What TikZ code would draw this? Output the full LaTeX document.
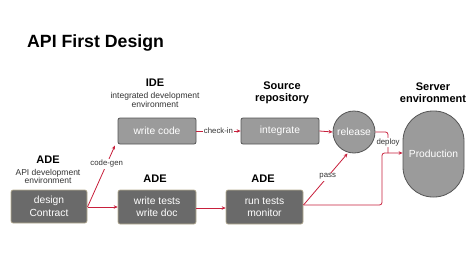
\documentclass[tikz,border=0pt]{standalone}
\usepackage{fontspec}
\setmainfont{Liberation Sans}
\usetikzlibrary{arrows.meta}
\definecolor{arrowred}{HTML}{C8203C}
\definecolor{lightbox}{HTML}{9B9B9B}
\definecolor{darkbox}{HTML}{6A6A6A}
\definecolor{boxline}{HTML}{555555}
\definecolor{darkline}{HTML}{B8AE92}
\definecolor{labelgray}{HTML}{333333}
\tikzset{
  lightstep/.style={draw=boxline, line width=0.8pt, fill=lightbox, rounded corners=2pt,
    minimum width=78pt, minimum height=26pt, text=white, font=\fontsize{10.3}{11}\selectfont, inner sep=0pt},
  darkstep/.style={draw=darkline, line width=0.6pt, fill=darkbox, rounded corners=2pt,
    minimum width=77pt, minimum height=34pt, text=white, align=center,
    font=\fontsize{10.3}{12.5}\selectfont, inner sep=0pt},
  heading/.style={font=\bfseries\fontsize{11}{12}\selectfont, align=center, text=black, inner sep=0pt},
  subhead/.style={font=\fontsize{8.5}{8.7}\selectfont, align=center, text=labelgray, inner sep=0pt},
  conn/.style={draw=arrowred, line width=0.8pt, -{Stealth[length=4pt,width=3.5pt]}},
  connplain/.style={draw=arrowred, line width=0.8pt},
  lbl/.style={fill=white, font=\fontsize{7.8}{9}\selectfont, text=labelgray, inner sep=1pt}
}
\begin{document}
\begin{tikzpicture}[x=1pt,y=-1pt]
\useasboundingbox (0,0) rectangle (474,257);
\fill[white] (0,0) rectangle (474,257);

\node[anchor=west, font=\bfseries\fontsize{17.7}{20}\selectfont, inner sep=0pt] (title) at (27,43) {API First Design};

% headings
\node[heading] (hide) at (155,83) {IDE};
\node[subhead] (hidesub) at (155,100) {integrated development\\environment};
\node[heading] (hsrc) at (282,93) {Source\\repository};
\node[heading] (hsrv) at (433,93) {Server\\environment};
\node[heading] (hade1) at (48,160) {ADE};
\node[subhead] (hade1sub) at (48,176.5) {API development\\environment};
\node[heading] (hade2) at (155,179) {ADE};
\node[heading] (hade3) at (263,179) {ADE};

% boxes
\node[lightstep] (code) at (157,131) {write code};
\node[lightstep] (integ) at (280,131) {integrate};
\node[circle, draw=boxline, line width=0.8pt, fill=lightbox, minimum size=42pt, inner sep=0pt,
  text=white, font=\fontsize{10.3}{11}\selectfont] (rel) at (354,132) {release};
\node[draw=boxline, line width=0.8pt, fill=lightbox, rounded corners=30pt,
  minimum width=61pt, minimum height=86pt, inner sep=0pt, text=white,
  font=\fontsize{10.3}{11}\selectfont] (prod) at (433.5,154) {Production};
\node[darkstep, minimum width=76pt, minimum height=33pt] (design) at (49,206.5) {design\\Contract};
\node[darkstep, minimum width=78pt] (tests) at (157,207) {write tests\\write doc};
\node[darkstep] (run) at (264.5,207) {run tests\\monitor};

% connectors
\coordinate (dstart) at (87.5,207);
\coordinate (cgend) at (115,145.5);
\draw[conn] (dstart) -- (tests.west |- dstart);
\draw[conn] (dstart) -- node[lbl, pos=0.7] (cglbl) {code-gen} (cgend);
\draw[conn] (code.east) -- node[lbl] (cilbl) {check-in} (integ.west);
\draw[conn] (integ.east) -- (rel.west);
\draw[conn] (tests.east |- 0,208) -- (run.west |- 0,208);
\coordinate (runout) at (303.5,205);
\coordinate (passend) at (347.5,153.5);
\draw[conn] (runout) -- node[lbl, pos=0.55] (passlbl) {pass} (passend);
\coordinate (pin) at (prod.west |- 0,153);
\draw[conn, rounded corners=2.5pt] (runout) -- (382,205) -- (382,153) -- (pin);
\draw[connplain, rounded corners=2.5pt] (rel.east) -- (388,132) -- node[lbl, pos=0.5] (deplbl) {deploy} (388,153);
\end{tikzpicture}
\end{document}
